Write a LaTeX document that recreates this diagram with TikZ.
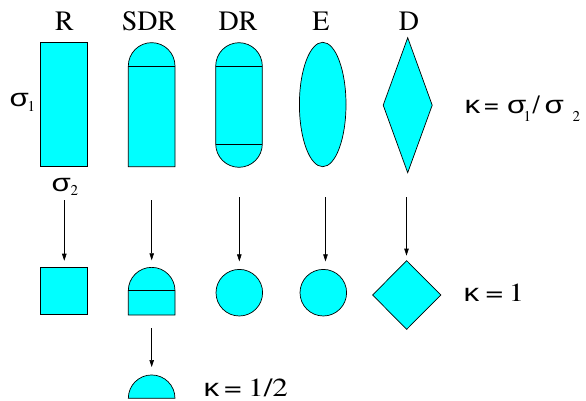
\documentclass[tikz,border=0pt]{standalone}
\usepackage{fontspec}
\setmainfont{TeX Gyre Termes}
\newfontfamily\grk{Liberation Sans}[FakeStretch=1.25]
\usetikzlibrary{arrows.meta,shapes.geometric}
\definecolor{aqua}{RGB}{0,255,255}
\newcommand{\sbs}[2]{\raisebox{-#1pt}{\fontsize{15}{15}\selectfont #2}}
\newcommand{\sg}{{\grk\fontsize{25}{25}\selectfont σ}}
\newcommand{\kp}{{\grk\fontsize{25}{25}\selectfont κ}}
\newcommand{\sx}[1]{\scalebox{1.2}[1]{#1}}
\newcommand{\at}[2]{\rlap{#2}\hspace{#1pt}}
\begin{document}
\begin{tikzpicture}[x=1pt,y=-1pt,
  shp/.style={draw=black,fill=aqua,line width=0.7pt,inner sep=0pt,outer sep=0pt},
  lbl/.style={inner sep=0pt,anchor=base,font=\fontsize{28}{28}\selectfont},
  klbl/.style={inner sep=0pt,anchor=base west,font=\fontsize{26}{26}\selectfont},
  arr/.style={line width=0.6pt,-{Triangle[length=7pt,width=4.5pt]}}]
\useasboundingbox (0,0) rectangle (586,401);
% labels
\node[lbl] (tR) at (64.5,31) {R};
\node[lbl] (tSDR) at (149,31) {SDR};
\node[lbl] (tDR) at (238,31) {DR};
\node[lbl] (tE) at (321,31) {E};
\node[lbl] (tD) at (409,31) {D};
% top row
\node[shp,rectangle,minimum width=47pt,minimum height=124.4pt] (R1) at (64.2,104.5) {};
\node[klbl] (s1) at (9.5,106.5) {\at{18}{\sg}\sbs{5}{1}};
\node[klbl] (s2) at (51.5,191.5) {\at{19}{\sg}\sbs{4}{2}};
\draw[shp] (128.3,166.7) -- (128.3,66) arc[start angle=180,end angle=360,radius=23.35] -- (175,166.7) -- cycle;
\draw[shp] (128.3,66) -- (175,66);
\draw[shp] (215.7,144) -- (215.7,66) arc[start angle=180,end angle=360,radius=23.3] -- (262.3,144) arc[start angle=0,end angle=180,radius=23.3] -- cycle;
\draw[shp] (215.7,66) -- (262.3,66);
\draw[shp] (215.7,144) -- (262.3,144);
\node[shp,ellipse,minimum width=46.6pt,minimum height=124.4pt] (E1) at (322.7,104.5) {};
\node[shp,diamond,minimum width=49pt,minimum height=135pt] (D1) at (407.7,105.2) {};
\node[klbl] (k1) at (464.5,113.5) {\at{19.5}{\kp}\at{23}{=}\at{16.5}{\sg}\at{9}{\sbs{8}{1}}\at{12}{/}\at{28}{\sg}\sbs{8}{2}};
% middle row
\node[shp,rectangle,minimum size=47pt] (R2) at (64.2,291.2) {};
\draw[shp] (128.3,315) -- (128.3,290.7) arc[start angle=180,end angle=360,radius=23.35] -- (175,315) -- cycle;
\draw[shp] (128.3,290.7) -- (175,290.7);
\coordinate (SDR2t) at (151.65,267.3);
\node[shp,circle,minimum size=46.6pt] (DR2) at (239.3,292.7) {};
\node[shp,circle,minimum size=46.6pt] (E2) at (323.3,292.7) {};
\node[shp,diamond,minimum width=68.3pt,minimum height=68.6pt] (D2) at (406.7,295) {};
\node[klbl] (k2) at (463.5,301) {\at{22}{\kp}\at{23}{\sx{=}}\sx{1}};
% bottom row
\draw[shp] (128.3,398.3) arc[start angle=180,end angle=360,radius=23.35] -- cycle;
\coordinate (SDR3t) at (151.65,375);
\node[klbl] (k3) at (203.5,396.5) {\at{20.5}{\kp}\at{24}{\sx{=}}\sx{1/2}};
% arrows
\coordinate (aR) at (64.3,200);
\coordinate (aSDR) at (151.7,200);
\coordinate (aDR) at (239.3,197);
\coordinate (aE) at (325.5,197);
\coordinate (aD) at (406.5,197);
\coordinate (aSDR2) at (151.7,328.3);
\draw[arr,shorten >=7pt] (aR) -- (aR |- R2.north);
\draw[arr,shorten >=7pt] (aSDR) -- (aSDR |- SDR2t);
\draw[arr,shorten >=8pt] (aDR) -- (aDR |- DR2.north);
\draw[arr,shorten >=8pt] (aE) -- (aE |- E2.north);
\draw[arr,shorten >=5pt] (aD) -- (aD |- D2.north);
\draw[arr,shorten >=8pt] (aSDR2) -- (aSDR2 |- SDR3t);
\end{tikzpicture}
\end{document}
